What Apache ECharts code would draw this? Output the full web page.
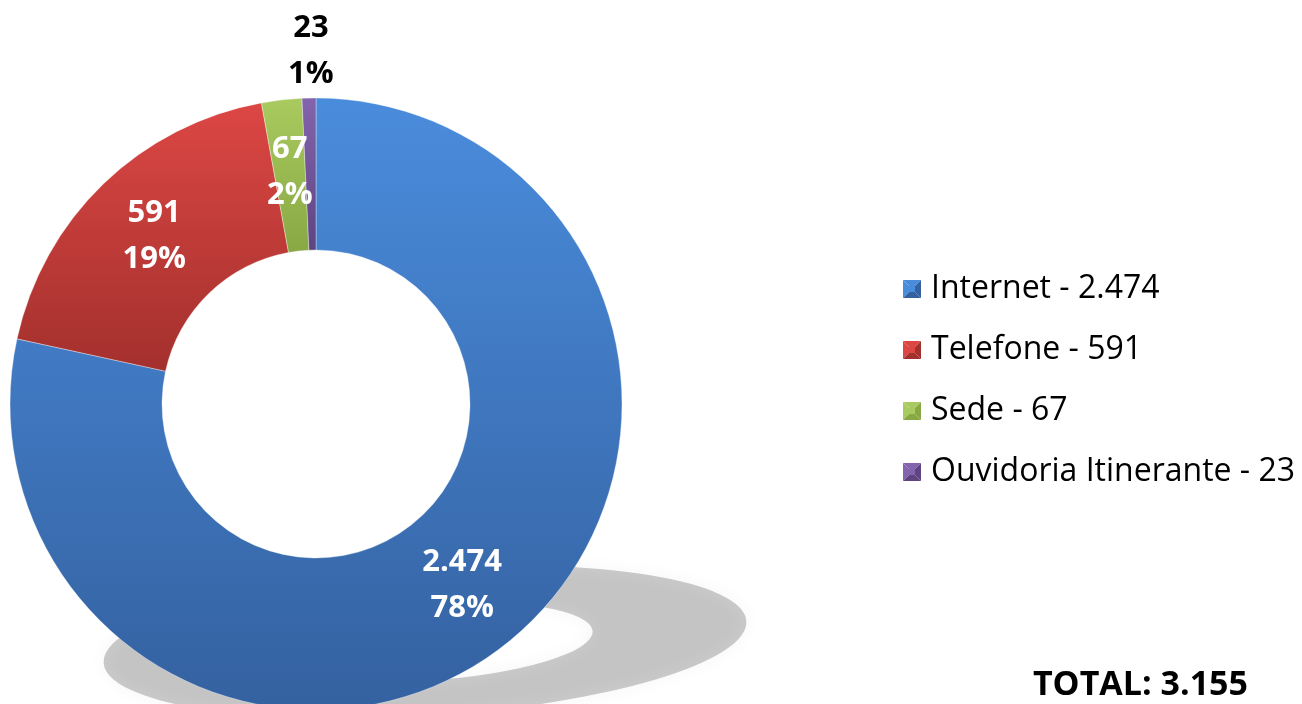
<!DOCTYPE html>
<html><head><meta charset="utf-8">
<script src="https://cdn.jsdelivr.net/npm/echarts@6/dist/echarts.min.js"></script>
<style>html,body{margin:0;padding:0;background:#fff}#c{width:1302px;height:704px}</style>
</head><body><div id="c"></div>
<script>
// ---- data ----
const categories = ['Internet', 'Telefone', 'Sede', 'Ouvidoria Itinerante'];
const values = [2474, 591, 67, 23];
const colorsTop = ['#4a8cdc', '#dc4744', '#a9ca5e', '#8464ad'];
const colorsBottom = ['#3461a0', '#a3302d', '#88a844', '#5e4481'];

function fmt(v) { return String(v).replace(/\B(?=(\d{3})+(?!\d))/g, '.'); }
const total = values.reduce((a, b) => a + b, 0);

function bevelIcon(top, dark) {
  const svg = '<svg xmlns="http://www.w3.org/2000/svg" width="18" height="18" viewBox="0 0 18 18">' +
    '<polygon points="0,0 18,0 12,6 6,6" fill="' + top + '"/>' +
    '<polygon points="0,0 6,6 6,12 0,18" fill="' + top + '"/>' +
    '<polygon points="18,0 18,18 12,12 12,6" fill="' + dark + '"/>' +
    '<polygon points="0,18 6,12 12,12 18,18" fill="' + dark + '"/>' +
    '<rect x="6" y="6" width="6" height="6" fill="' + top + '"/>' +
    '</svg>';
  return 'image://data:image/svg+xml;charset=utf-8,' + encodeURIComponent(svg);
}

const chart = echarts.init(document.getElementById('c'), null, { renderer: 'canvas' });

const data = categories.map((name, i) => {
  const item = {
    name: name,
    value: values[i],
    itemStyle: {
      color: new echarts.graphic.LinearGradient(0, 0, 0, 1, [
        { offset: 0, color: colorsTop[i] },
        { offset: 1, color: colorsBottom[i] }
      ])
    }
  };
  if (i === 3) {
    item.label = { position: 'outside', color: '#000' };
  }
  return item;
});

const FONT = 'Open Sans';

chart.setOption({
  animation: false,
  backgroundColor: '#fff',
  title: {
    text: 'TOTAL: ' + fmt(total),
    right: 54, top: 668, padding: 0,
    textStyle: { fontFamily: FONT, fontSize: 34, fontWeight: 'bold', color: '#000' }
  },
  graphic: [{
    type: 'ring',
    z: 0,
    x: 425, y: 642,
    rotation: 0.065,
    scaleY: 0.23,
    shape: { cx: 0, cy: 0, r: 322, r0: 168 },
    style: {
      fill: 'rgba(0,0,0,0.2)',
      shadowBlur: 18,
      shadowColor: 'rgba(0,0,0,0.2)'
    }
  }],
  legend: {
    orient: 'vertical',
    left: 898, top: 268,
    itemWidth: 18, itemHeight: 18,
    itemGap: 29,
    data: categories.map((n, i) => ({ name: n, icon: bevelIcon(colorsTop[i], colorsBottom[i]) })),
    formatter: function (name) { return name + ' - ' + fmt(values[categories.indexOf(name)]); },
    textStyle: { fontFamily: FONT, fontSize: 32, lineHeight: 32, color: '#000', padding: [0, 0, 0, 5] }
  },
  series: [{
    type: 'pie',
    z: 2,
    center: [316, 404],
    radius: [154, 306],
    startAngle: 90,
    clockwise: true,
    percentPrecision: 0,
    avoidLabelOverlap: false,
    itemStyle: { borderColor: 'rgba(255,255,255,0.35)', borderWidth: 1 },
    label: {
      show: true,
      position: 'inside',
      color: '#fff',
      fontFamily: FONT,
      fontWeight: 'bold',
      fontSize: 31,
      lineHeight: 46,
      formatter: function (p) { return fmt(p.value) + '\n' + p.percent + '%'; }
    },
    labelLine: { show: false, length: 47, length2: 0 },
    labelLayout: function (p) { return p.dataIndex === 3 ? { align: 'center', dx: 8 } : {}; },
    emphasis: { disabled: true },
    data: data
  }]
});
</script>
</body></html>
